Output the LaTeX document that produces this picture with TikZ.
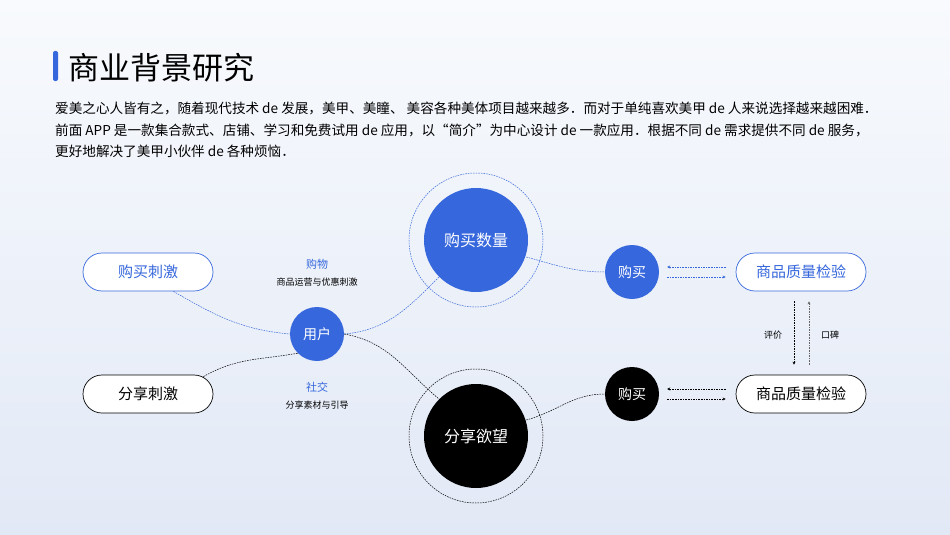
\documentclass[tikz,border=0pt]{standalone}
\usepackage{fontspec}
\setmainfont{Noto Sans CJK SC}
\usetikzlibrary{arrows.meta,calc}
\definecolor{bl}{RGB}{54,103,220}
\definecolor{bgt}{RGB}{248,250,253}
\definecolor{bgb}{RGB}{226,233,246}
\begin{document}
\begin{tikzpicture}[x=1pt,y=-1pt,
  pill/.style={draw,rounded corners=19pt,minimum width=130pt,minimum height=38pt,fill=white,font=\fontsize{15}{15}\selectfont,line width=0.7pt},
  dot/.style={circle,inner sep=0pt,font=\fontsize{#1}{#1}\selectfont,text=white},
  con/.style={line width=0.5pt,dash pattern=on 1.6pt off 1pt},
  arr/.style={con,-{Stealth[length=3pt,width=3pt]}},
  small/.style={font=\fontsize{9}{9}\selectfont}]
\shade[top color=bgt,bottom color=bgb] (0,0) rectangle (950,535);
\useasboundingbox (0,0) rectangle (950,535);
\fill[bl,rounded corners=2pt] (53,51) rectangle (58,81);
\node[anchor=west,font=\fontsize{31}{31}\selectfont,inner sep=0] (title) at (68,68) {商业背景研究};
\node[anchor=north west,align=left,inner sep=0,font=\fontsize{13.6}{21.5}\selectfont] (para) at (55,102)
{爱美之心人皆有之，随着现代技术 de 发展，美甲、美瞳、 美容各种美体项目越来越多．而对于单纯喜欢美甲 de 人来说选择越来越困难．\\
前面 APP 是一款集合款式、店铺、学习和免费试用 de 应用，以“简介”为中心设计 de 一款应用．根据不同 de 需求提供不同 de 服务，\\
更好地解决了美甲小伙伴 de 各种烦恼．};
% nodes
\node[pill,draw=bl,text=bl] (gmcj) at (148,272) {购买刺激};
\node[pill,draw=black] (fxcj) at (148,394) {分享刺激};
\node[pill,draw=bl,text=bl] (zl1) at (801,272) {商品质量检验};
\node[pill,draw=black] (zl2) at (801,394) {商品质量检验};
\node[dot=14,fill=bl,minimum size=54pt] (user) at (317,334) {用户};
\node[dot=16,fill=bl,minimum size=104pt] (gmsl) at (476,240) {购买数量};
\node[dot=16,fill=black,minimum size=104pt] (fxyw) at (476,436) {分享欲望};
\node[dot=14,fill=bl,minimum size=54pt] (buy1) at (632,272) {购买};
\node[dot=14,fill=black,minimum size=54pt] (buy2) at (632,394) {购买};
\node[circle,draw=bl,con,minimum size=134pt] (ring1) at (476,240) {};
\node[circle,draw=black,con,minimum size=134pt] (ring2) at (476,436) {};
% labels
\node[text=bl,font=\fontsize{11}{11}\selectfont] (l1) at (317,264) {购物};
\node[small] (l1b) at (317,282) {商品运营与优惠刺激};
\node[text=bl,font=\fontsize{11}{11}\selectfont] (l2) at (317,387) {社交};
\node[small] (l2b) at (317,405) {分享素材与引导};
\node[small] (pj) at (773,335) {评价};
\node[small] (kb) at (830,335) {口碑};
% connectors
\draw[con,draw=bl] ($(gmcj.south east)+(-40,0)$) coordinate (c1) to[out=-30,in=175] (user.west);
\draw[con,draw=bl] (user.east) to[out=5,in=225] (gmsl.south west);
\draw[con,draw=black] ($(fxcj.north east)+(-10,2)$) coordinate (c2) to[out=30,in=190] (user.south west);
\draw[con,draw=black] (user.east) to[out=-10,in=140] (fxyw.north west);
\draw[con,draw=bl] ($(gmsl.east)+(-2,17)$) coordinate (c4) to[out=-15,in=180] (buy1.west);
\draw[con,draw=black] ($(fxyw.east)+(-2,-16)$) coordinate (c5) to[out=15,in=180] (buy2.west);
\draw[arr,draw=bl] ($(zl1.west)+(-10,-5)$) -- ($(buy1.east)+(8,-5)$);
\draw[arr,draw=bl] ($(buy1.east)+(8,5)$) -- ($(zl1.west)+(-10,5)$);
\draw[arr,draw=black] ($(zl2.west)+(-10,-5)$) -- ($(buy2.east)+(8,-5)$);
\draw[arr,draw=black] ($(buy2.east)+(8,5)$) -- ($(zl2.west)+(-10,5)$);
\draw[arr,draw=black] ($(zl1.south)+(-7,10)$) -- ($(zl2.north)+(-7,-10)$);
\draw[arr,draw=black!60] ($(zl2.north)+(8,-10)$) -- ($(zl1.south)+(8,10)$);
\end{tikzpicture}
\end{document}
